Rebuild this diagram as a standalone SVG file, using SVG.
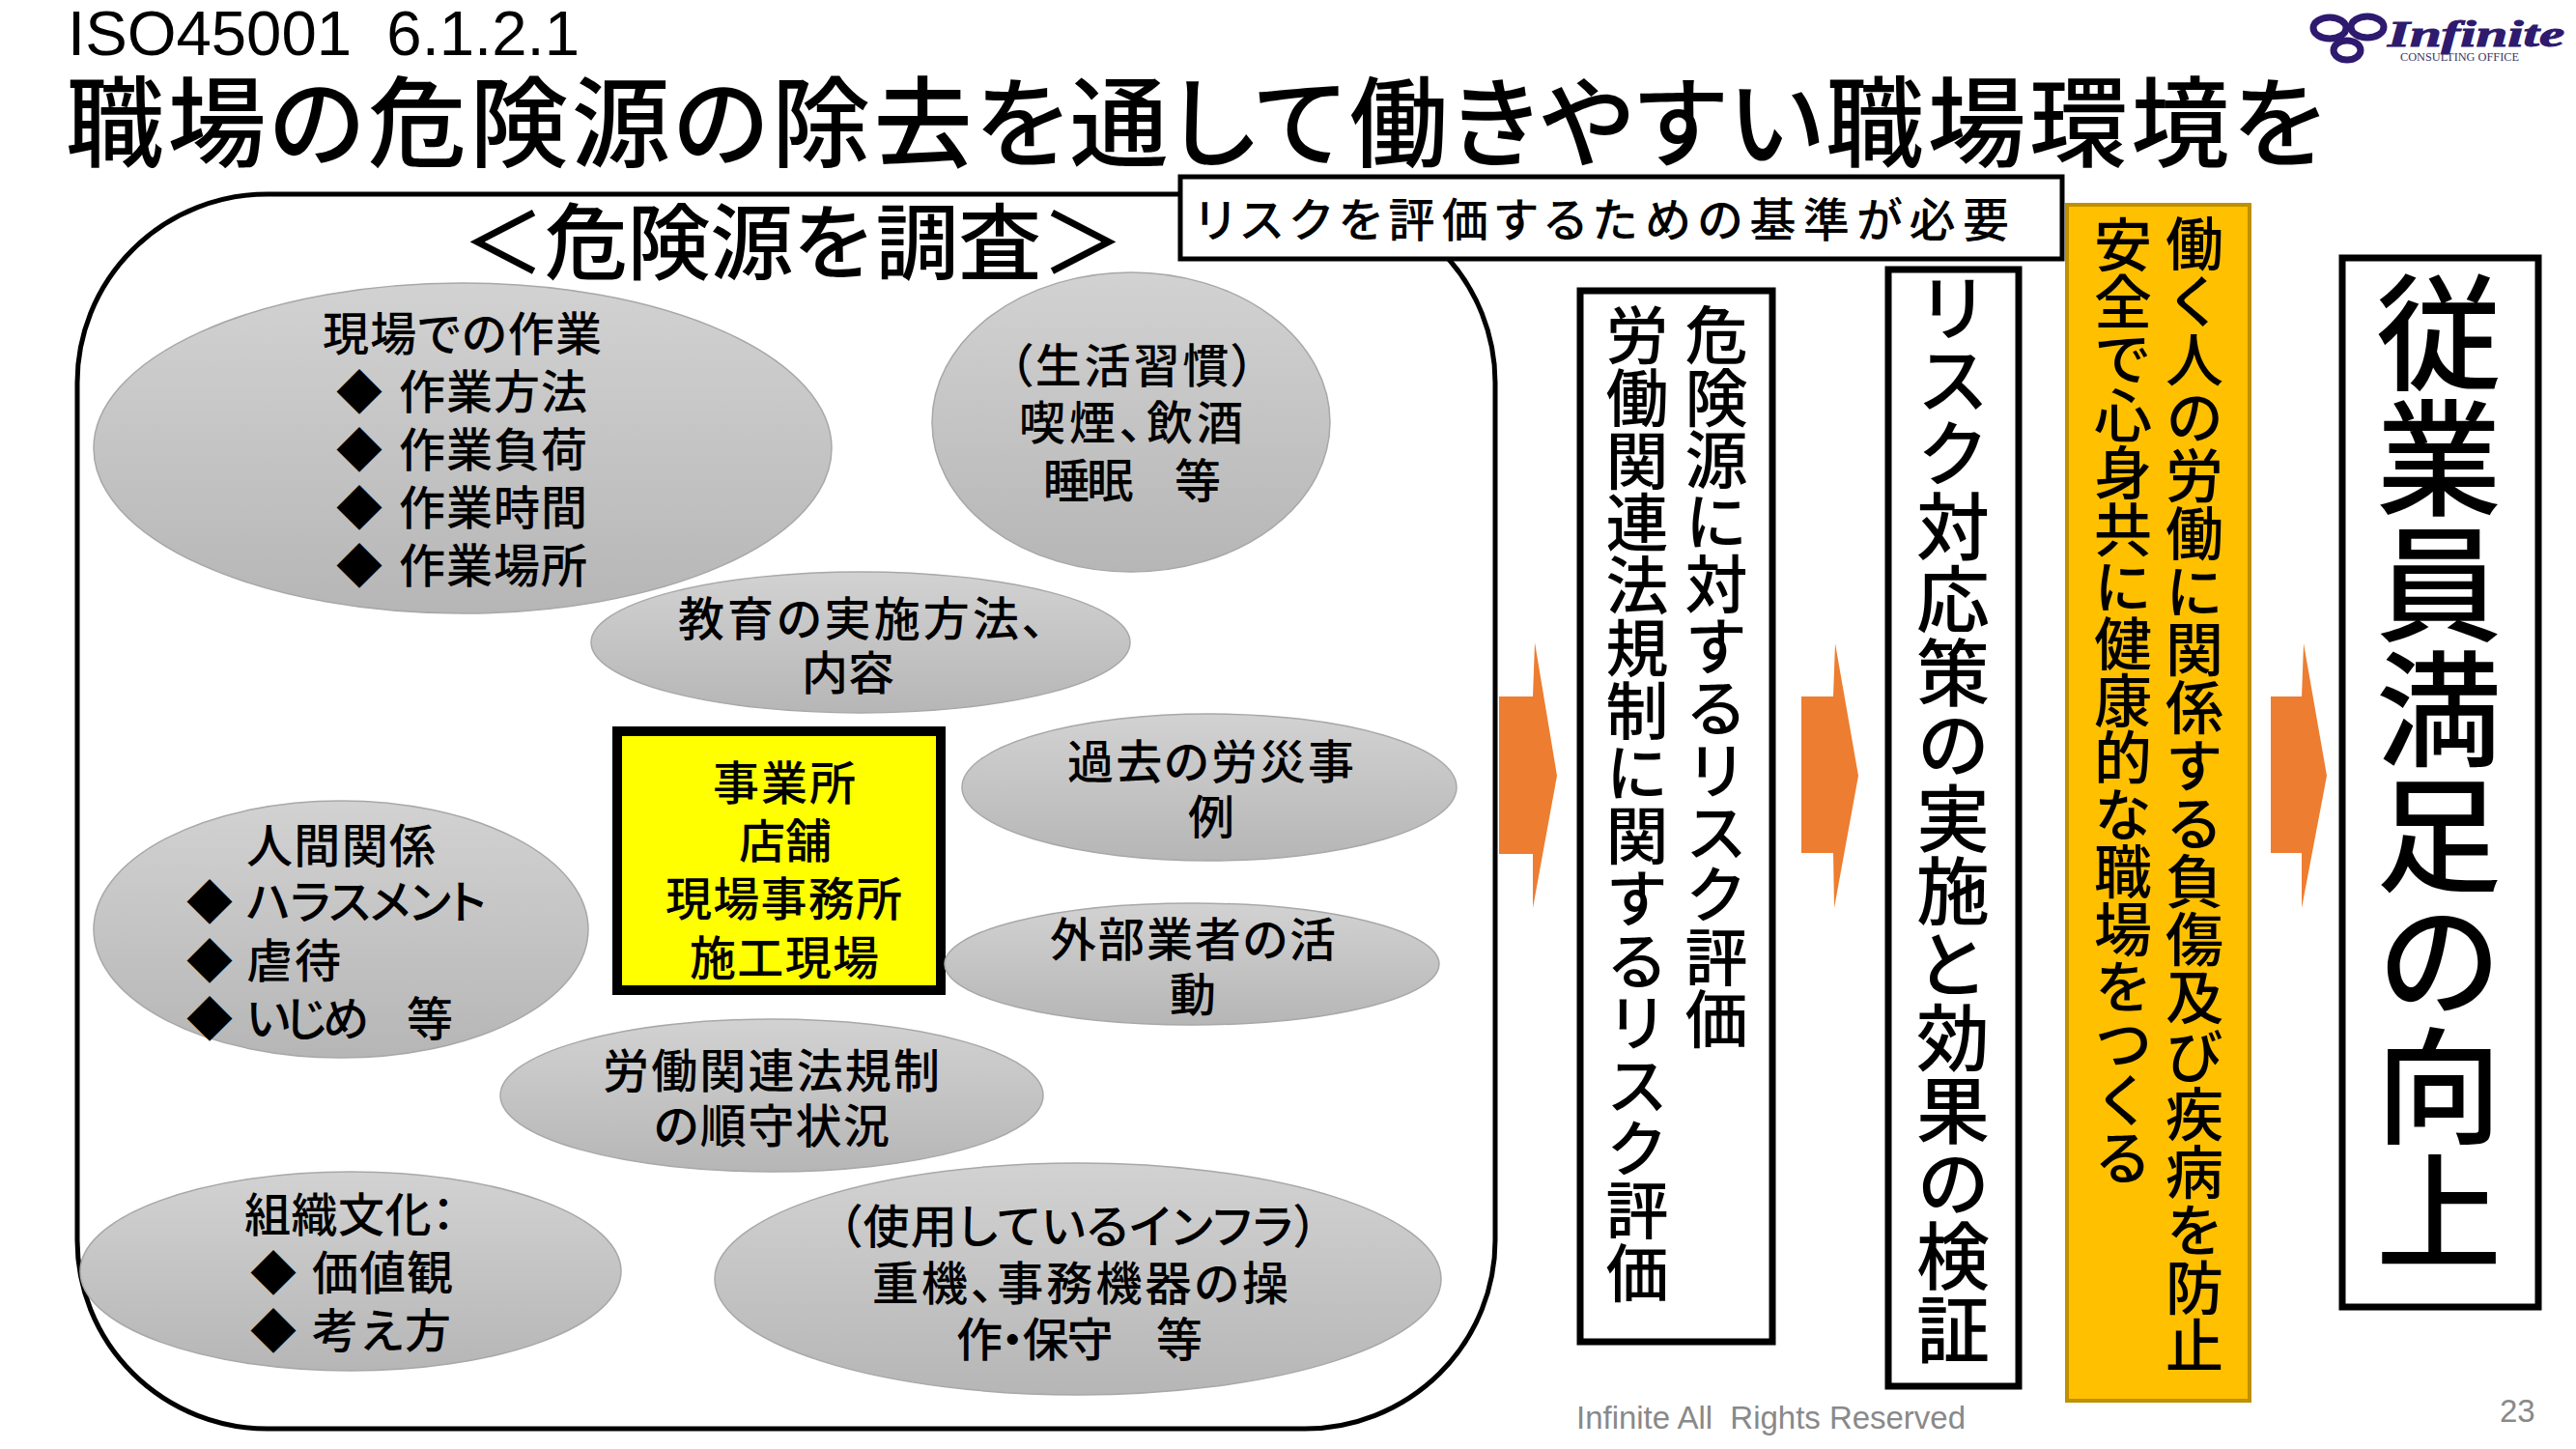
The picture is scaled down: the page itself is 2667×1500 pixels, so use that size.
<svg xmlns="http://www.w3.org/2000/svg" width="2667" height="1500" viewBox="0 0 2667 1500">
<style>
text{font-family:"Noto Sans CJK JP","Liberation Sans",sans-serif;fill:#000;white-space:pre;font-weight:500}
.h{font-size:48px;font-feature-settings:"palt"}
.v{writing-mode:vertical-rl}
.e{fill:url(#eg);stroke:#a8a8a8;stroke-width:1.5}
.b{fill:#fff;stroke:#000}
.a{fill:#ed7d31}
.lat{font-family:"Liberation Sans",Arial,sans-serif;font-weight:400}
.foot{font-family:"Liberation Sans",Arial,sans-serif;font-size:33px;fill:#898989;font-weight:400}
</style>
<defs>
<linearGradient id="eg" x1="0" y1="0" x2="0" y2="1"><stop offset="0" stop-color="#d2d2d2"/><stop offset="1" stop-color="#b6b6b6"/></linearGradient>
</defs>
<rect width="2667" height="1500" fill="#fff"/>
<g id="title">
<text class="lat" x="70" y="57" font-size="64" textLength="530" lengthAdjust="spacingAndGlyphs">ISO45001  6.1.2.1</text>
<text x="68" y="165" font-size="102" textLength="2338" style="font-feature-settings:'palt'">職場の危険源の除去を通して働きやすい職場環境を</text>
</g>
<g id="logo">
<g fill="none" stroke="#2e1a6e" stroke-width="7">
<ellipse cx="2412" cy="29" rx="17" ry="11"/>
<ellipse cx="2451" cy="28" rx="17" ry="11"/>
<ellipse cx="2430" cy="52" rx="14" ry="10"/>
</g>
<text x="2472" y="48" textLength="183" lengthAdjust="spacingAndGlyphs" font-size="38" font-style="italic" stroke="#2e1a6e" stroke-width="1" style="font-family:'Liberation Serif',serif;fill:#2e1a6e;font-weight:700">Infinite</text>
<text x="2485" y="63" textLength="123" lengthAdjust="spacingAndGlyphs" font-size="12" style="font-family:'Liberation Serif',serif;fill:#3a3566;font-weight:400">CONSULTING OFFICE</text>
</g>
<g id="survey">
<rect x="80" y="201" width="1468" height="1278" rx="197" ry="195" fill="#fff" stroke="#000" stroke-width="5"/>
<text x="478" y="283" font-size="86" textLength="686">＜危険源を調査＞</text>
</g>
<g id="n-work">
<ellipse class="e" cx="479" cy="464" rx="382" ry="171"/>
<text class="h" x="334" y="363" textLength="289">現場での作業</text>
<text class="h" x="348" y="423">◆</text><text class="h" x="413" y="423" textLength="195">作業方法</text>
<text class="h" x="348" y="483">◆</text><text class="h" x="413" y="483" textLength="195">作業負荷</text>
<text class="h" x="348" y="543">◆</text><text class="h" x="413" y="543" textLength="195">作業時間</text>
<text class="h" x="348" y="603">◆</text><text class="h" x="413" y="603" textLength="195">作業場所</text>
</g>
<g id="n-life">
<ellipse class="e" cx="1171" cy="437" rx="206" ry="155"/>
<text class="h" x="1045" y="396" textLength="254">（生活習慣）</text>
<text class="h" x="1055" y="455" textLength="232">喫煙、飲酒</text>
<text class="h" x="1080" y="515" textLength="184">睡眠　等</text>
</g>
<g id="n-edu">
<ellipse class="e" cx="891" cy="665" rx="279" ry="73"/>
<text class="h" x="702" y="658" textLength="380">教育の実施方法、</text>
<text class="h" x="830" y="714" textLength="96">内容</text>
</g>
<g id="n-past">
<ellipse class="e" cx="1252" cy="815" rx="256" ry="76"/>
<text class="h" x="1105" y="806" textLength="297">過去の労災事</text>
<text class="h" x="1230" y="863">例</text>
</g>
<g id="n-site">
<rect x="639" y="757" width="335" height="268" fill="#ff0" stroke="#000" stroke-width="10"/>
<text class="h" x="738" y="828" textLength="148">事業所</text>
<text class="h" x="765" y="888" textLength="96">店舗</text>
<text class="h" x="689" y="948" textLength="245">現場事務所</text>
<text class="h" x="714" y="1009" textLength="196">施工現場</text>
</g>
<g id="n-human">
<ellipse class="e" cx="353" cy="962" rx="256" ry="133"/>
<text class="h" x="255" y="893" textLength="196">人間関係</text>
<text class="h" x="193" y="951">◆</text><text class="h" x="255" y="951" textLength="248">ハラスメント</text>
<text class="h" x="193" y="1012">◆</text><text class="h" x="255" y="1012" textLength="98">虐待</text>
<text class="h" x="193" y="1072">◆</text><text class="h" x="255" y="1072" textLength="214">いじめ　等</text>
</g>
<g id="n-vendor">
<ellipse class="e" cx="1234" cy="998" rx="256" ry="63"/>
<text class="h" x="1087" y="990" textLength="296">外部業者の活</text>
<text class="h" x="1211" y="1047">動</text>
</g>
<g id="n-law">
<ellipse class="e" cx="799" cy="1134" rx="281" ry="79"/>
<text class="h" x="624" y="1126" textLength="349">労働関連法規制</text>
<text class="h" x="677" y="1183" textLength="244">の順守状況</text>
</g>
<g id="n-culture">
<ellipse class="e" cx="363" cy="1316" rx="280" ry="103"/>
<text class="h" x="253" y="1275" textLength="218">組織文化：</text>
<text class="h" x="259" y="1335">◆</text><text class="h" x="323" y="1335" textLength="146">価値観</text>
<text class="h" x="259" y="1395">◆</text><text class="h" x="323" y="1395" textLength="144">考え方</text>
</g>
<g id="n-infra">
<ellipse class="e" cx="1116" cy="1324" rx="376" ry="120"/>
<text class="h" x="868" y="1287" textLength="496">（使用しているインフラ）</text>
<text class="h" x="903" y="1346" textLength="431">重機、事務機器の操</text>
<text class="h" x="990" y="1404" textLength="255">作・保守　等</text>
</g>
<g id="n-criteria">
<rect x="1222" y="183" width="913" height="85" class="b" stroke-width="5"/>
<text class="h" x="1238" y="245" textLength="842">リスクを評価するための基準が必要</text>
</g>
<g id="connectors">
<polygon class="a" points="1552,721 1587,721 1589,665 1612,803 1587,940 1587,884 1552,884"/>
<polygon class="a" points="1865,721 1898,721 1900,666 1924,803 1899,940 1898,883 1865,883"/>
<polygon class="a" points="2351,721 2383,721 2385,666 2409,803 2383,940 2383,883 2351,883"/>
</g>
<g id="n-risk">
<rect x="1636" y="301" width="199" height="1088" class="b" stroke-width="7"/>
<text class="v" x="1777" y="314" font-size="65" textLength="773">危険源に対するリスク評価</text>
<text class="v" x="1695" y="314" font-size="65" textLength="1036">労働関連法規制に関するリスク評価</text>
</g>
<g id="n-action">
<rect x="1955" y="279" width="135" height="1156" class="b" stroke-width="7"/>
<text class="v" x="2022" y="280" font-size="76" textLength="1134">リスク対応策の実施と効果の検証</text>
</g>
<g id="n-goal">
<rect x="2140" y="212" width="189" height="1238" fill="#ffc000" stroke="#bf9000" stroke-width="4"/>
<text class="v" x="2272" y="222" font-size="60" textLength="1201">働く人の労働に関係する負傷及び疾病を防止</text>
<text class="v" x="2198" y="223" font-size="60" textLength="1005">安全で心身共に健康的な職場をつくる</text>
</g>
<g id="n-satisfaction">
<rect x="2425" y="267" width="203" height="1086" class="b" stroke-width="7"/>
<text class="v" x="2525" y="279" font-size="130" textLength="1040">従業員満足の向上</text>
</g>
<g id="footer">
<text class="foot" x="1632" y="1479" textLength="403">Infinite All  Rights Reserved</text>
<text class="foot" x="2588" y="1472">23</text>
</g>
</svg>
